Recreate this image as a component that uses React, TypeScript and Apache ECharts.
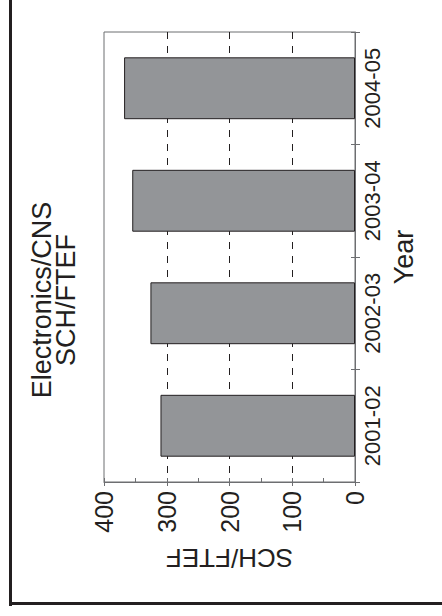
import React, { useEffect, useRef } from "react";
import * as echarts from "echarts";

const categories = ["2001-02", "2002-03", "2003-04", "2004-05"];
const values = [310, 326, 355, 368];
const titleLines = ["Electronics/CNS", "SCH/FTEF"];
const valueAxisName = "SCH/FTEF";
const categoryAxisName = "Year";

const FONT = "'Liberation Sans', Arial, Helvetica, sans-serif";
const AXIS_GRAY = "#6d6e71";
const INK = "#231f20";

export default function App() {
  const ref = useRef<HTMLDivElement>(null);
  useEffect(() => {
    if (!ref.current) return;
    const chart = echarts.init(ref.current, undefined, { renderer: "svg" });
    chart.setOption({
      animation: false,
      backgroundColor: "#ffffff",
      grid: {
        left: 104,
        right: 87,
        top: 32,
        bottom: 134,
        show: true,
        borderColor: AXIS_GRAY,
        borderWidth: 1,
        containLabel: false,
      },
      xAxis: [
        {
          type: "value",
          position: "bottom",
          inverse: true,
          min: 0,
          max: 400,
          interval: 100,
          axisLine: { show: true, lineStyle: { color: AXIS_GRAY, width: 1 } },
          axisTick: { show: true, inside: true, length: 4, lineStyle: { color: AXIS_GRAY } },
          minorTick: { show: true, splitNumber: 2, length: 4, lineStyle: { color: AXIS_GRAY } },
          axisLabel: { rotate: 90, fontSize: 25, margin: 9, color: INK, fontFamily: FONT },
          splitLine: {
            show: true,
            showMinLine: false,
            showMaxLine: false,
            lineStyle: { type: [7, 7], color: INK, width: 1 },
          },
          name: valueAxisName,
          nameLocation: "middle",
          nameRotate: 180,
          nameGap: 63,
          nameTextStyle: { fontSize: 26, color: INK, fontFamily: FONT },
        },
        {
          type: "value",
          position: "bottom",
          inverse: true,
          min: 0,
          max: 400,
          interval: 100,
          axisLine: { show: false },
          axisTick: { show: true, inside: false, length: 4, lineStyle: { color: AXIS_GRAY } },
          axisLabel: { show: false },
          splitLine: { show: false },
        },
      ],
      yAxis: [
        {
          type: "category",
          position: "right",
          data: categories,
          axisLine: { show: true, lineStyle: { color: AXIS_GRAY, width: 1 } },
          axisTick: { show: true, inside: true, length: 4, lineStyle: { color: AXIS_GRAY } },
          axisLabel: { rotate: 90, fontSize: 22, margin: 6, color: INK, fontFamily: FONT },
          splitLine: { show: false },
          name: categoryAxisName,
          nameLocation: "middle",
          nameRotate: 90,
          nameGap: 29,
          nameTextStyle: { fontSize: 27, color: INK, fontFamily: FONT },
        },
        {
          type: "category",
          position: "right",
          data: categories,
          axisLine: { show: false },
          axisTick: { show: true, inside: false, length: 5, lineStyle: { color: AXIS_GRAY } },
          axisLabel: { show: false },
          splitLine: { show: false },
        },
      ],
      series: [
        {
          type: "bar",
          xAxisIndex: 0,
          yAxisIndex: 0,
          data: values,
          barWidth: "55%",
          itemStyle: { color: "#939598", borderColor: INK, borderWidth: 1 },
        },
      ],
      graphic: [
        {
          type: "text",
          x: 54,
          y: 300,
          rotation: Math.PI / 2,
          style: {
            text: titleLines.join("\n"),
            fontSize: 27,
            lineHeight: 24,
            fontFamily: FONT,
            fill: INK,
            align: "center",
            verticalAlign: "middle",
          },
        },
        { type: "rect", shape: { x: 9, y: 0, width: 3, height: 606 }, style: { fill: INK } },
        { type: "rect", shape: { x: 9, y: 602, width: 433, height: 3 }, style: { fill: INK } },
      ],
    });
    return () => chart.dispose();
  }, []);
  return (
    <div
      ref={ref}
      style={{ position: "absolute", left: 0, top: 0, width: 442, height: 616 }}
    />
  );
}
